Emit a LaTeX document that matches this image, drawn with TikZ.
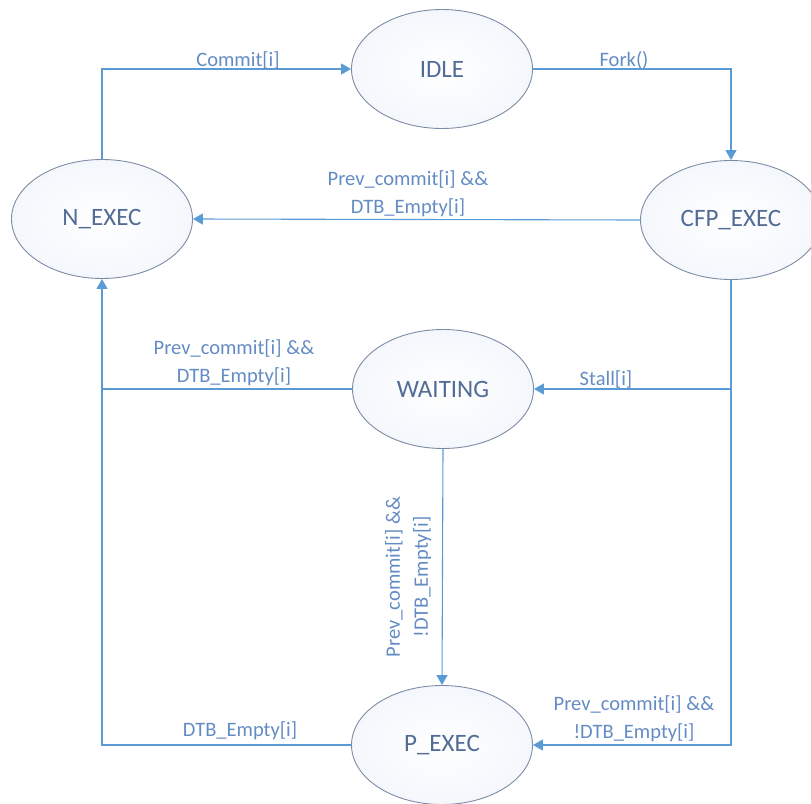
\documentclass[tikz,border=0pt]{standalone}
\usepackage{fontspec}
\setmainfont{Carlito}
\usetikzlibrary{arrows.meta,shapes.geometric}
\definecolor{linec}{RGB}{91,155,213}
\definecolor{labc}{RGB}{100,140,196}
\definecolor{nodetxt}{RGB}{82,108,150}
\definecolor{nodeborder}{RGB}{125,140,165}
\definecolor{nodefill}{RGB}{244,247,252}
\tikzset{
  state/.style={ellipse, draw=nodeborder, line width=0.9pt, inner color=white, outer color=nodefill,
    minimum width=181pt, minimum height=119pt, inner sep=0pt, text=nodetxt,
    font=\fontsize{25}{29}\selectfont},
  conn/.style={draw=linec, line width=1.1pt},
  arr/.style={conn, -{Triangle[width=11pt,length=10pt]}},
  lab/.style={text=labc, font=\fontsize{20.5}{28}\selectfont, align=center, inner sep=0pt}
}
\begin{document}
\begin{tikzpicture}[x=1pt,y=-1pt]
\useasboundingbox (0,0) rectangle (811,803);
\clip (0,0) rectangle (811,803);
\node[state] (idle) at (442,69) {IDLE};
\node[state] (n) at (102,219) {N\_EXEC};
\node[state] (cfp) at (731,220) {CFP\_EXEC};
\node[state] (wait) at (443,389) {WAITING};
\node[state] (p) at (442,745) {P\_EXEC};
% connectors
\draw[arr] (n.north) |- (idle.west);
\draw[arr] (idle.east) -| (cfp.north);
\draw[arr] (cfp.west) -- (n.east);
\draw[arr] (cfp.south) |- (wait.east);
\draw[arr] (cfp.south) |- (p.east);
\draw[conn] (wait.west) -- (wait.west -| n.south);
\draw[arr] (p.west) -| (n.south);
\draw[arr] (wait.south) -- (p.north);
% labels
\node[lab] (l1) at (238,60) {Commit[i]};
\node[lab] (l2) at (624,60) {Fork()};
\node[lab] (l3) at (408,194) {Prev\_commit[i] \&\&\\DTB\_Empty[i]};
\node[lab] (l4) at (234,363) {Prev\_commit[i] \&\&\\DTB\_Empty[i]};
\node[lab] (l5) at (606,379) {Stall[i]};
\node[lab, rotate=90] (l6) at (408,577) {Prev\_commit[i] \&\&\\!DTB\_Empty[i]};
\node[lab] (l7) at (634,719) {Prev\_commit[i] \&\&\\!DTB\_Empty[i]};
\node[lab] (l8) at (240,731) {DTB\_Empty[i]};
\end{tikzpicture}
\end{document}
